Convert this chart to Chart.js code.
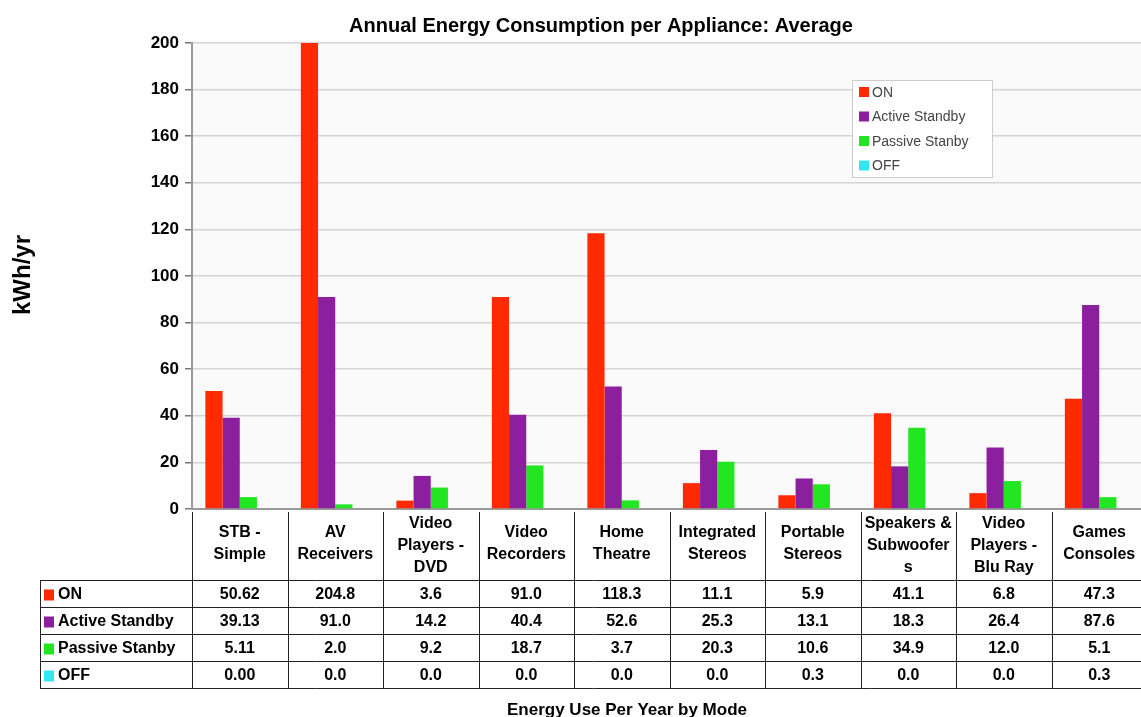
<!DOCTYPE html>
<html>
<head>
<meta charset="utf-8">
<script src="https://cdn.jsdelivr.net/npm/chart.js@4/dist/chart.umd.min.js"></script>
<style>
  html, body { margin: 0; background: #fff; overflow: hidden; }
  #wrap { width: 1141px; height: 717px; overflow: hidden; }
</style>
</head>
<body>
<div id="wrap"><canvas id="energyChart" width="1147" height="717"></canvas></div>
<script>
const categories = [
    ["STB -", "Simple"],
    ["AV", "Receivers"],
    ["Video", "Players -", "DVD"],
    ["Video", "Recorders"],
    ["Home", "Theatre"],
    ["Integrated", "Stereos"],
    ["Portable", "Stereos"],
    ["Speakers &", "Subwoofer", "s"],
    ["Video", "Players -", "Blu Ray"],
    ["Games", "Consoles"]
];
const modes = ["ON", "Active Standby", "Passive Stanby", "OFF"];
const onValues = [50.62, 204.8, 3.6, 91.0, 118.3, 11.1, 5.9, 41.1, 6.8, 47.3];
const activeStandby = [39.13, 91.0, 14.2, 40.4, 52.6, 25.3, 13.1, 18.3, 26.4, 87.6];
const passiveStandby = [5.11, 2.0, 9.2, 18.7, 3.7, 20.3, 10.6, 34.9, 12.0, 5.1];
const offValues = [0.00, 0.0, 0.0, 0.0, 0.0, 0.0, 0.3, 0.0, 0.0, 0.3];
const tableDecimals = [2, 1, 1, 1, 1, 1, 1, 1, 1, 1];
const yTicks = [0, 20, 40, 60, 80, 100, 120, 140, 160, 180, 200];

const colors = ["#ff2a00", "#8b1f9e", "#22e622", "#33e6f2"];
const seriesValues = [onValues, activeStandby, passiveStandby, offValues];
const FONT = "'Liberation Sans', Arial, sans-serif";

// faint grey fill behind the plot
const bgPlugin = {
    id: "plotBg",
    beforeDraw(chart) {
        const a = chart.chartArea;
        chart.ctx.save();
        chart.ctx.fillStyle = "#fafafa";
        chart.ctx.fillRect(a.left, a.top, a.right - a.left, a.bottom - a.top);
        chart.ctx.restore();
    }
};

// titles, legend box and data table drawn on the canvas
const extrasPlugin = {
    id: "extras",
    afterDraw(chart) {
        const ctx = chart.ctx;
        const area = chart.chartArea;
        const xs = chart.scales.x;
        const n = categories.length;
        const step = (area.right - area.left) / n;

        ctx.save();
        ctx.fillStyle = "#000";
        ctx.textBaseline = "alphabetic";
        ctx.textAlign = "center";
        ctx.font = "bold 20px " + FONT;
        ctx.fillText("Annual Energy Consumption per Appliance: Average", 601, 32);
        ctx.font = "bold 17px " + FONT;
        ctx.fillText("Energy Use Per Year by Mode", 627, 715);

        ctx.save();
        ctx.translate(30, 275);
        ctx.rotate(-Math.PI / 2);
        ctx.font = "bold 24px " + FONT;
        ctx.fillText("kWh/yr", 0, 0);
        ctx.restore();

        // legend
        ctx.textBaseline = "middle";
        ctx.fillStyle = "#fff";
        ctx.fillRect(852, 80, 140, 97);
        ctx.strokeStyle = "#ccc";
        ctx.lineWidth = 1;
        ctx.strokeRect(852.5, 80.5, 140, 97);
        ctx.font = "14px " + FONT;
        ctx.textAlign = "left";
        modes.forEach((m, i) => {
            const y = 92 + i * 24.5;
            ctx.fillStyle = colors[i];
            ctx.fillRect(859, y - 5, 10, 10);
            ctx.fillStyle = "#444";
            ctx.fillText(m, 872, y + 1);
        });

        // data table
        const headTop = 512, rowTop = 580, rowH = 27;
        const tableLeft = 40;
        const tableBottom = rowTop + rowH * modes.length;
        ctx.strokeStyle = "#222";
        ctx.lineWidth = 1;
        ctx.beginPath();
        for (let i = 0; i <= n; i++) {
            const x = Math.round(xs.getPixelForValue(i) - step / 2) + 0.5;
            ctx.moveTo(x, headTop);
            ctx.lineTo(x, tableBottom);
        }
        ctx.moveTo(tableLeft + 0.5, rowTop);
        ctx.lineTo(tableLeft + 0.5, tableBottom);
        for (let r = 0; r <= modes.length; r++) {
            const y = rowTop + r * rowH + 0.5;
            ctx.moveTo(tableLeft, y);
            ctx.lineTo(chart.width, y);
        }
        ctx.stroke();

        ctx.fillStyle = "#000";
        ctx.font = "bold 16px " + FONT;
        ctx.textAlign = "center";
        categories.forEach((lines, i) => {
            const cx = xs.getPixelForValue(i);
            const mid = lines.length === 3 ? 546 : 544;
            const y0 = mid - (lines.length - 1) * 22 / 2;
            lines.forEach((t, k) => ctx.fillText(t, cx, y0 + k * 22));
        });

        modes.forEach((m, r) => {
            const cy = rowTop + r * rowH + rowH / 2 + 1;
            ctx.fillStyle = colors[r];
            ctx.fillRect(44, cy - 5, 10, 11);
            ctx.fillStyle = "#000";
            ctx.textAlign = "left";
            ctx.fillText(m, 58, cy);
            ctx.textAlign = "center";
            seriesValues[r].forEach((v, i) => {
                ctx.fillText(v.toFixed(tableDecimals[i]), xs.getPixelForValue(i), cy);
            });
        });
        ctx.restore();
    }
};

new Chart(document.getElementById("energyChart"), {
    type: "bar",
    data: {
        labels: categories.map(c => c.join(" ")),
        datasets: modes.map((m, i) => ({
            label: m,
            data: seriesValues[i],
            backgroundColor: colors[i],
            borderWidth: 0,
            categoryPercentage: 0.72,
            barPercentage: 1.0
        }))
    },
    options: {
        responsive: false,
        animation: false,
        layout: { padding: { top: 43, bottom: 208, left: 0, right: 0 } },
        plugins: {
            legend: { display: false },
            title: { display: false },
            tooltip: { enabled: false }
        },
        scales: {
            x: {
                grid: { display: false },
                ticks: { display: false },
                border: { color: "#9a9a9a", width: 2 },
                afterFit(scale) { scale.height = 0; }
            },
            y: {
                min: 0,
                max: 200,
                afterBuildTicks(scale) { scale.ticks = yTicks.map(v => ({ value: v })); },
                ticks: {
                    color: "#000",
                    padding: 6,
                    font: { family: FONT, size: 17, weight: "bold" }
                },
                grid: { color: "#d4d4d4", lineWidth: 1.5, tickColor: "#777", tickLength: 7 },
                border: { color: "#9a9a9a", width: 2 },
                afterFit(scale) { scale.width = 192; }
            }
        }
    },
    plugins: [bgPlugin, extrasPlugin]
});
</script>
</body>
</html>
